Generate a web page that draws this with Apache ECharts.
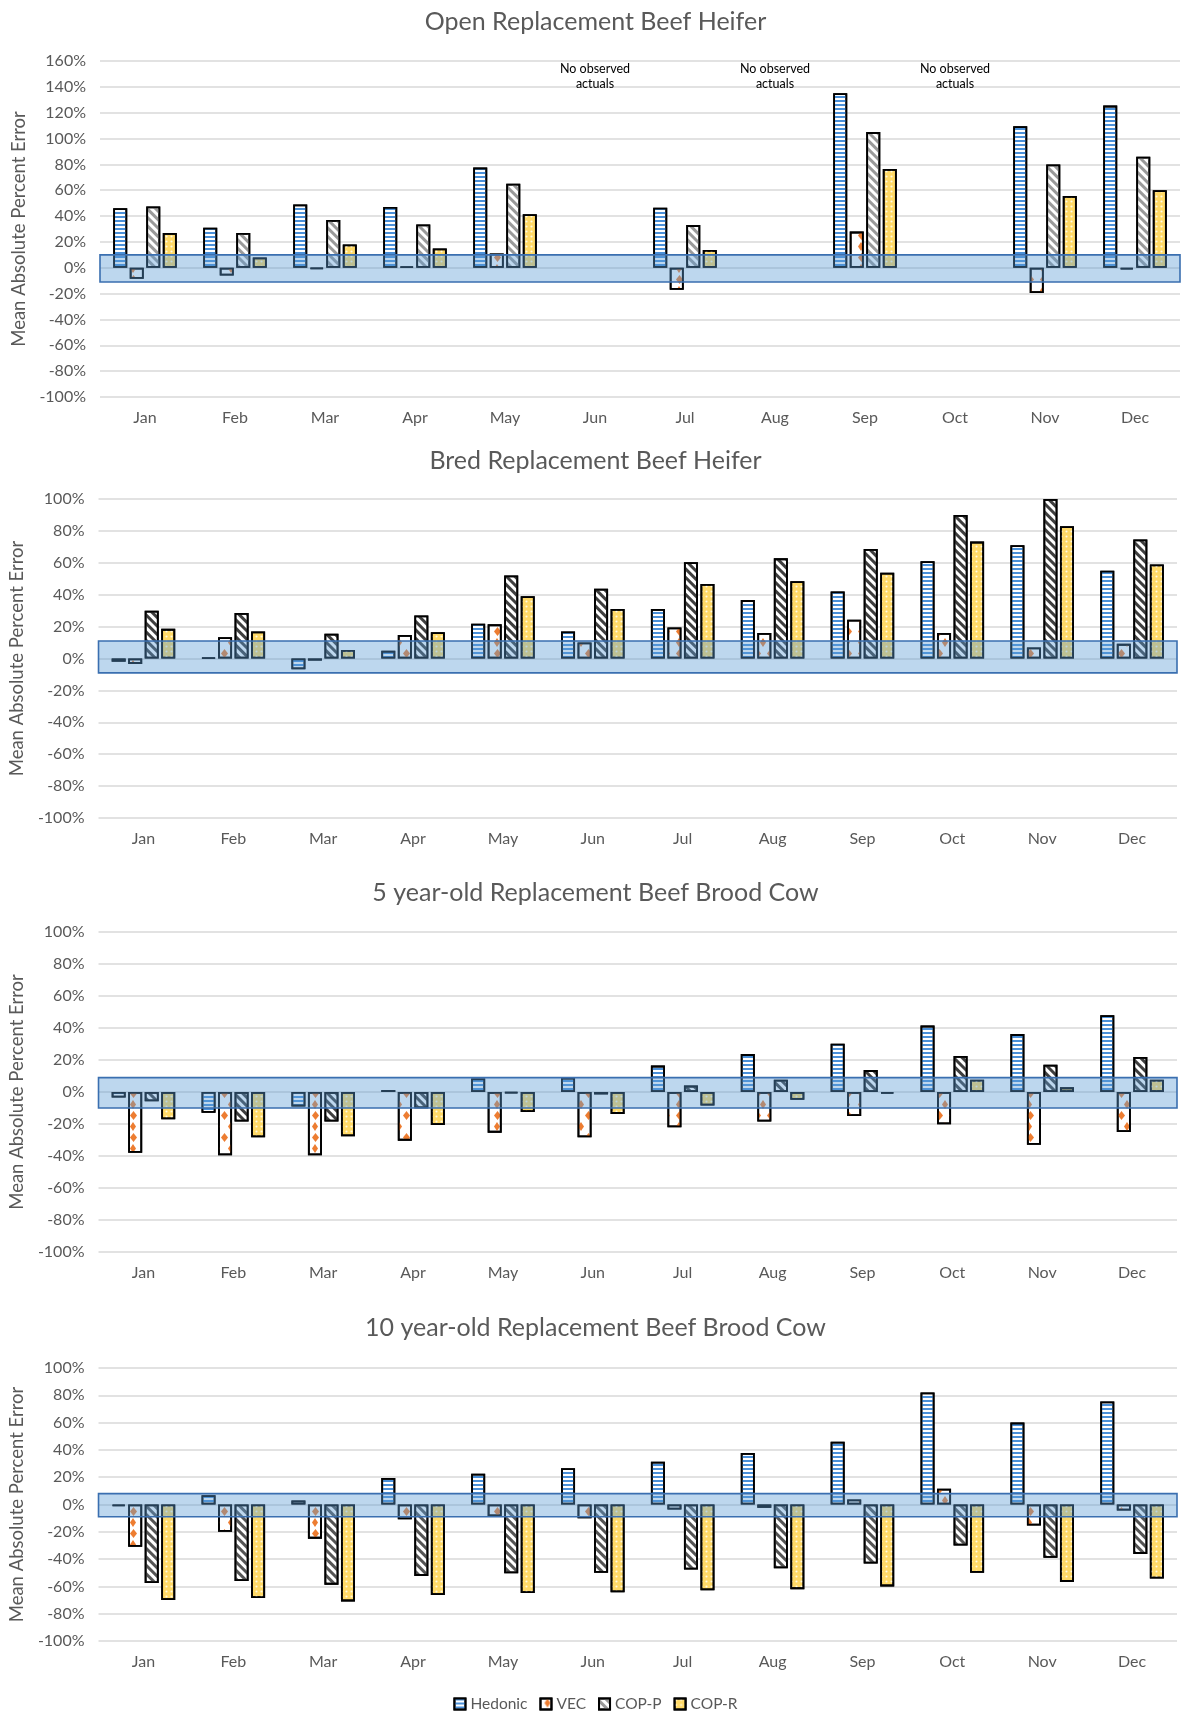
<!DOCTYPE html>
<html><head><meta charset="utf-8">
<script src="https://cdn.jsdelivr.net/npm/echarts@6/dist/echarts.min.js"></script>
<style>html,body{margin:0;padding:0;background:#fff}#c{width:1191px;height:1715px}</style>
</head><body><div id="c"></div>
<script>
// ---------- data ----------
const months = ['Jan','Feb','Mar','Apr','May','Jun','Jul','Aug','Sep','Oct','Nov','Dec'];
const seriesNames = ['Hedonic','VEC','COP-P','COP-R'];
const panelTitles = ['Open Replacement Beef Heifer','Bred Replacement Beef Heifer','5 year-old Replacement Beef Brood Cow','10 year-old Replacement Beef Brood Cow'];
const yAxisName = 'Mean Absolute Percent Error';
const noteText = 'No observed\nactuals';
const noObsMonths = ['Jun','Aug','Oct'];
const noteLevel = 148;

// Panel 1: Open Replacement Beef Heifer
const openHedonic = [46, 31, 49, 47, 77.5, null, 46.5, null, 135, null, 109.5, 125.5];
const openVEC     = [-8.5, -6, -1, 1, 11, null, -17, null, 28, null, -19.5, -1.3];
const openCOPP    = [47.5, 27, 37, 33.5, 65, null, 33, null, 105, null, 80, 86];
const openCOPR    = [27, 8, 18, 15, 41.5, null, 13.7, null, 76.5, null, 55.5, 60];
// Panel 2: Bred Replacement Beef Heifer
const bredHedonic = [-2, 0.5, -6.7, 4.8, 21.8, 17, 31, 36.6, 42, 61, 71, 55];
const bredVEC     = [-3.4, 13.4, -1.3, 14.7, 21.4, 10, 19.5, 16, 24.3, 16, 6.9, 9.2];
const bredCOPP    = [30, 28.5, 15.5, 27, 52, 43.8, 60.3, 62.8, 68.7, 90, 100, 74.6];
const bredCOPR    = [18.6, 17, 5.4, 16.5, 39, 31, 46.7, 48.4, 53.8, 73.3, 82.9, 59];
// Panel 3: 5 year-old Replacement Beef Brood Cow
const cow5Hedonic = [-3.5, -13, -9, 1.2, 8.5, 9, 16.5, 23.7, 30.2, 41.5, 36.2, 48];
const cow5VEC     = [-38, -39.6, -39.6, -30.4, -25.4, -28.3, -22, -18.5, -15, -20.2, -33, -25];
const cow5COPP    = [-5.8, -18.5, -18.5, -10.2, -0.8, -1.5, 4, 7.7, 13.7, 22.5, 17, 21.9];
const cow5COPR    = [-17, -28.3, -27.7, -20.6, -12.5, -13.7, -8.5, -4.8, -1, 7.7, 2.9, 7.7];
// Panel 4: 10 year-old Replacement Beef Brood Cow
const cow10Hedonic = [-1.2, 6.8, 3, 19.5, 22.5, 26.6, 31.3, 37.7, 46, 82, 60, 75.5];
const cow10VEC     = [-31, -20, -25, -10.8, -8.6, -10, -3.7, -2.4, 3.7, 11.5, -15.4, -4.4];
const cow10COPP    = [-57.5, -56, -58.7, -52.3, -50.4, -50, -47.7, -46.7, -43.3, -30, -39, -36.2];
const cow10COPR    = [-70, -68.5, -71, -66.3, -64.8, -64.3, -62.8, -62, -60, -50, -56.7, -54.3];

// highlighted +/- band per panel (percent)
const bandHigh = [10, 11, 9, 8];
const bandLow  = [-11, -9, -10, -9];
const yMaxs = [160, 100, 100, 100];
const yMin = -100;
const yInterval = 20;

const panelData = [
  [openHedonic, openVEC, openCOPP, openCOPR],
  [bredHedonic, bredVEC, bredCOPP, bredCOPR],
  [cow5Hedonic, cow5VEC, cow5COPP, cow5COPR],
  [cow10Hedonic, cow10VEC, cow10COPP, cow10COPR]
];

// ---------- layout / styles ----------
const FONT = 'Lato, "Open Sans", sans-serif';
const TXT = '#595959';
const grids = [
  {left:100, top:61,   width:1080, height:336},
  {left:98,  top:499,  width:1079, height:319},
  {left:96,  top:932,  width:1081, height:320},
  {left:93,  top:1368, width:1084, height:273}
];
const titleTops = [4, 443, 875, 1310];
const copPColors = ['#9a9a9a', '#3f3f3f', '#3f3f3f', '#555555'];

function itemStyleFor(si, p) {
  const base = {borderColor:'#000', borderWidth:1.8};
  if (si === 0) return Object.assign(base, {color:'#ffffff',
    decal:{symbol:'rect', symbolSize:1, color:'#4A90D9', dashArrayX:[20,0], dashArrayY:[2,2], rotation:0}});
  if (si === 1) return Object.assign(base, {color:'#ffffff',
    decal:{symbol:'diamond', symbolSize:1, symbolKeepAspect:false, color:'#ED7D31', dashArrayX:[[7,6],[0,3.5,6,3.5]], dashArrayY:[9,2], rotation:0}});
  if (si === 2) return Object.assign(base, {color:'#ffffff',
    decal:{symbol:'rect', symbolSize:1, color:copPColors[p], dashArrayX:[20,0], dashArrayY:[2.2,3], rotation:Math.PI/4}});
  return Object.assign(base, {color:'#FFD966',
    decal:{symbol:'circle', symbolSize:0.7, color:'rgba(255,255,255,0.85)', dashArrayX:[3,2], dashArrayY:[3,2], rotation:0}});
}

const option = {
  animation:false,
  backgroundColor:'#ffffff',
  textStyle:{fontFamily:FONT},
  title: panelTitles.map((t,i)=>({text:t, left:'center', top:titleTops[i],
    textStyle:{color:TXT, fontSize:25, fontWeight:'normal', fontFamily:FONT}})),
  legend:{data:seriesNames, left:'center', top:1691, icon:'rect', itemWidth:11, itemHeight:11, itemGap:12,
    textStyle:{color:TXT, fontSize:15.5, fontFamily:FONT}},
  grid: grids.map(g=>Object.assign({containLabel:false}, g)),
  xAxis: grids.map((g,i)=>({type:'category', gridIndex:i, data:months, boundaryGap:true,
    axisLine:{show:false}, axisTick:{show:false},
    axisLabel:{color:TXT, fontSize:16, margin:13, fontFamily:FONT}})),
  yAxis: grids.map((g,i)=>({type:'value', gridIndex:i, min:yMin, max:yMaxs[i], interval:yInterval,
    name:yAxisName, nameLocation:'middle', nameGap:67, nameRotate:90,
    nameTextStyle:{color:TXT, fontSize:18.5, fontFamily:FONT},
    axisLine:{show:false}, axisTick:{show:false},
    axisLabel:{color:TXT, fontSize:16, margin:14, formatter:'{value}%', fontFamily:FONT},
    splitLine:{lineStyle:{color:'#D9D9D9', width:1.5}}})),
  series: []
};

panelData.forEach((arrs, p) => {
  arrs.forEach((vals, si) => {
    option.series.push({
      type:'bar', name:seriesNames[si], xAxisIndex:p, yAxisIndex:p,
      data: vals, barWidth:14, barGap:'18%', z:2,
      itemStyle: itemStyleFor(si, p)
    });
  });
  const band = {
    type:'line', name:'band'+p, xAxisIndex:p, yAxisIndex:p, data:[], z:10, silent:true,
    markArea:{silent:true, z:10,
      itemStyle:{color:'rgba(91,155,213,0.4)', borderColor:'#3A6FB0', borderWidth:1.6},
      data:[[{yAxis:bandHigh[p]},{yAxis:bandLow[p]}]]}
  };
  if (p === 0) {
    band.markPoint = {silent:true, z:11, symbol:'circle', symbolSize:1,
      itemStyle:{color:'rgba(0,0,0,0)'},
      label:{show:true, position:'inside', formatter:noteText, color:'#000', fontSize:12.5, lineHeight:15, fontFamily:FONT},
      data: noObsMonths.map(m=>({coord:[m, noteLevel]}))};
  }
  option.series.push(band);
});

const chart = echarts.init(document.getElementById('c'), null, {renderer:'canvas', width:1191, height:1715});
chart.setOption(option);
</script></body></html>
